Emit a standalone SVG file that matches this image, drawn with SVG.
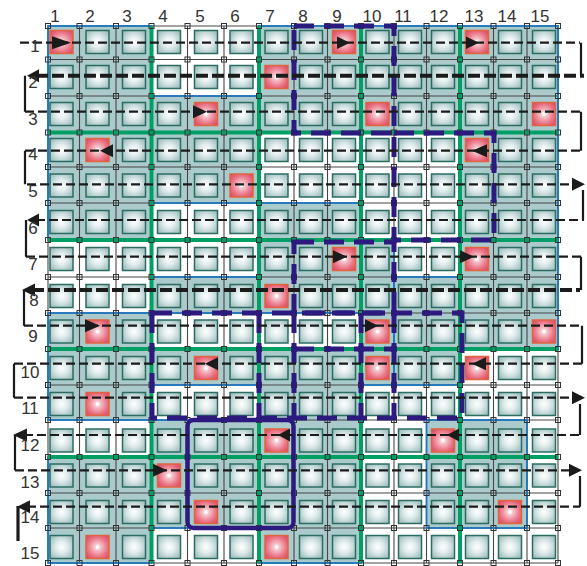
<svg xmlns="http://www.w3.org/2000/svg" width="587" height="566" viewBox="0 0 587 566">
<style>
.grid{stroke:#474747;stroke-width:1.1;fill:none}
.green{stroke:#00a064;stroke-width:4;fill:none}
.pd{stroke:#2d1a7e;stroke-width:5;fill:none;stroke-dasharray:20 10}
.ps{stroke:#2d1a7e;stroke-width:4.5;fill:none}
.sl{stroke:#1b1b1b;stroke-width:2.2;fill:none;stroke-dasharray:9 4}
.sk{stroke:#1b1b1b;stroke-width:4;fill:none;stroke-dasharray:12 4}
.cn{stroke:#1b1b1b;stroke-width:2.2;fill:none}
.ah{fill:#1b1b1b}
.lb{font-family:"Liberation Sans",Arial,sans-serif;font-size:17px;fill:#333;text-anchor:middle}
.mk{fill:none;stroke:#333;stroke-width:1}
</style>
<defs>
<radialGradient id="gs" cx="50%" cy="50%" r="70%">
<stop offset="0" stop-color="#ffffff"/><stop offset="0.35" stop-color="#e2eded"/><stop offset="1" stop-color="#8fb3b3"/>
</radialGradient>
<radialGradient id="gr" cx="50%" cy="50%" r="70%">
<stop offset="0" stop-color="#ffffff"/><stop offset="0.2" stop-color="#f5c3ca"/><stop offset="0.6" stop-color="#ea7586"/><stop offset="1" stop-color="#d8405a"/>
</radialGradient>
<rect id="s" x="-11.5" y="-11.5" width="23" height="23" fill="url(#gs)" stroke="#2b6e61" stroke-width="1.5"/>
<g id="r"><rect x="-11.5" y="-11.5" width="23" height="23" fill="url(#gr)" stroke="#e0653f" stroke-width="1.5"/><rect x="-1.5" y="-1.5" width="3" height="3" fill="#fff"/></g>
<rect id="m" x="-2.5" y="-2.5" width="5" height="5" class="mk"/>
<g id="mr">
<use href="#m" x="48"/><use href="#m" x="79.5"/><use href="#m" x="116"/><use href="#m" x="151.5"/><use href="#m" x="187.5"/><use href="#m" x="224"/><use href="#m" x="259"/><use href="#m" x="294"/><use href="#m" x="327.5"/><use href="#m" x="361"/><use href="#m" x="394"/><use href="#m" x="426.5"/><use href="#m" x="460"/><use href="#m" x="493.5"/><use href="#m" x="527"/><use href="#m" x="558"/>
</g>
<g id="teal">
<rect x="48" y="26" width="103.5" height="106.5"/>
<rect x="151.5" y="96" width="107.5" height="36.5"/>
<rect x="259" y="26" width="102" height="106.5"/>
<rect x="361" y="26" width="99" height="106.5"/>
<rect x="460" y="26" width="98" height="106.5"/>
<rect x="48" y="132.5" width="103.5" height="107.5"/>
<rect x="151.5" y="132.5" width="107.5" height="70.5"/>
<rect x="259" y="203" width="102" height="37"/>
<rect x="460" y="132.5" width="98" height="107.5"/>
<rect x="259" y="240" width="102" height="73"/>
<rect x="361" y="240" width="33" height="145"/>
<rect x="394" y="277" width="66" height="108"/>
<rect x="460" y="240" width="98" height="109"/>
<rect x="151.5" y="277" width="107.5" height="36"/>
<rect x="48" y="313" width="103.5" height="107"/>
<rect x="151.5" y="349" width="107.5" height="36"/>
<rect x="259" y="349" width="102" height="214"/>
<rect x="151.5" y="420" width="107.5" height="108"/>
<rect x="426.5" y="420" width="100.5" height="108"/>
<rect x="48" y="457" width="103.5" height="106"/>
</g>
</defs>
<rect width="587" height="566" fill="#fff"/>
<use href="#teal" fill="#aacacc"/>
<path class="grid" d="M48 26V563M79.5 26V563M116 26V563M151.5 26V563M187.5 26V563M224 26V563M259 26V563M294 26V563M327.5 26V563M361 26V563M394 26V563M426.5 26V563M460 26V563M493.5 26V563M527 26V563M558 26V563M48 26H558M48 59.5H558M48 96H558M48 132.5H558M48 167H558M48 203H558M48 240H558M48 277H558M48 313H558M48 349H558M48 385H558M48 420H558M48 457H558M48 493H558M48 528H558M48 563H558"/>
<use href="#teal" fill="none" stroke="#1e78c2" stroke-width="1.8"/>
<path class="green" d="M151.5 26V563M259 26V563M361 26V563M460 26V563M48 132.5H558M48 240H558M48 349H558M48 457H558"/>
<g id="markers">
<use href="#mr" y="26"/><use href="#mr" y="59.5"/><use href="#mr" y="96"/><use href="#mr" y="132.5"/><use href="#mr" y="167"/><use href="#mr" y="203"/><use href="#mr" y="240"/><use href="#mr" y="277"/><use href="#mr" y="313"/><use href="#mr" y="349"/><use href="#mr" y="385"/><use href="#mr" y="420"/><use href="#mr" y="457"/><use href="#mr" y="493"/><use href="#mr" y="528"/><use href="#mr" y="563"/>
</g>
<g id="row-1" transform="translate(0,42)"><use href="#r" x="61.5"/><use href="#s" x="97.5"/><use href="#s" x="134"/><use href="#s" x="169"/><use href="#s" x="206"/><use href="#s" x="241.5"/><use href="#s" x="276.5"/><use href="#s" x="311"/><use href="#r" x="344"/><use href="#s" x="377.5"/><use href="#s" x="410"/><use href="#s" x="443"/><use href="#r" x="477"/><use href="#s" x="510"/><use href="#s" x="544"/></g>
<g id="row-2" transform="translate(0,77)"><use href="#s" x="61.5"/><use href="#s" x="97.5"/><use href="#s" x="134"/><use href="#s" x="169"/><use href="#s" x="206"/><use href="#s" x="241.5"/><use href="#r" x="276.5"/><use href="#s" x="311"/><use href="#s" x="344"/><use href="#s" x="377.5"/><use href="#s" x="410"/><use href="#s" x="443"/><use href="#s" x="477"/><use href="#s" x="510"/><use href="#s" x="544"/></g>
<g id="row-3" transform="translate(0,114)"><use href="#s" x="61.5"/><use href="#s" x="97.5"/><use href="#s" x="134"/><use href="#s" x="169"/><use href="#r" x="206"/><use href="#s" x="241.5"/><use href="#s" x="276.5"/><use href="#s" x="311"/><use href="#s" x="344"/><use href="#r" x="377.5"/><use href="#s" x="410"/><use href="#s" x="443"/><use href="#s" x="477"/><use href="#s" x="510"/><use href="#r" x="544"/></g>
<g id="row-4" transform="translate(0,150)"><use href="#s" x="61.5"/><use href="#r" x="97.5"/><use href="#s" x="134"/><use href="#s" x="169"/><use href="#s" x="206"/><use href="#s" x="241.5"/><use href="#s" x="276.5"/><use href="#s" x="311"/><use href="#s" x="344"/><use href="#s" x="377.5"/><use href="#s" x="410"/><use href="#s" x="443"/><use href="#r" x="477"/><use href="#s" x="510"/><use href="#s" x="544"/></g>
<g id="row-5" transform="translate(0,185.5)"><use href="#s" x="61.5"/><use href="#s" x="97.5"/><use href="#s" x="134"/><use href="#s" x="169"/><use href="#s" x="206"/><use href="#r" x="241.5"/><use href="#s" x="276.5"/><use href="#s" x="311"/><use href="#s" x="344"/><use href="#s" x="377.5"/><use href="#s" x="410"/><use href="#s" x="443"/><use href="#s" x="477"/><use href="#s" x="510"/><use href="#s" x="544"/></g>
<g id="row-6" transform="translate(0,222)"><use href="#s" x="61.5"/><use href="#s" x="97.5"/><use href="#s" x="134"/><use href="#s" x="169"/><use href="#s" x="206"/><use href="#s" x="241.5"/><use href="#s" x="276.5"/><use href="#s" x="311"/><use href="#s" x="344"/><use href="#s" x="377.5"/><use href="#s" x="410"/><use href="#s" x="443"/><use href="#s" x="477"/><use href="#s" x="510"/><use href="#s" x="544"/></g>
<g id="row-7" transform="translate(0,259)"><use href="#s" x="61.5"/><use href="#s" x="97.5"/><use href="#s" x="134"/><use href="#s" x="169"/><use href="#s" x="206"/><use href="#s" x="241.5"/><use href="#s" x="276.5"/><use href="#s" x="311"/><use href="#r" x="344"/><use href="#s" x="377.5"/><use href="#s" x="410"/><use href="#s" x="443"/><use href="#r" x="477"/><use href="#s" x="510"/><use href="#s" x="544"/></g>
<g id="row-8" transform="translate(0,296)"><use href="#s" x="61.5"/><use href="#s" x="97.5"/><use href="#s" x="134"/><use href="#s" x="169"/><use href="#s" x="206"/><use href="#s" x="241.5"/><use href="#r" x="276.5"/><use href="#s" x="311"/><use href="#s" x="344"/><use href="#s" x="377.5"/><use href="#s" x="410"/><use href="#s" x="443"/><use href="#s" x="477"/><use href="#s" x="510"/><use href="#s" x="544"/></g>
<g id="row-9" transform="translate(0,331.5)"><use href="#s" x="61.5"/><use href="#r" x="97.5"/><use href="#s" x="134"/><use href="#s" x="169"/><use href="#s" x="206"/><use href="#s" x="241.5"/><use href="#s" x="276.5"/><use href="#s" x="311"/><use href="#s" x="344"/><use href="#r" x="377.5"/><use href="#s" x="410"/><use href="#s" x="443"/><use href="#s" x="477"/><use href="#s" x="510"/><use href="#r" x="544"/></g>
<g id="row-10" transform="translate(0,368)"><use href="#s" x="61.5"/><use href="#s" x="97.5"/><use href="#s" x="134"/><use href="#s" x="169"/><use href="#r" x="206"/><use href="#s" x="241.5"/><use href="#s" x="276.5"/><use href="#s" x="311"/><use href="#s" x="344"/><use href="#r" x="377.5"/><use href="#s" x="410"/><use href="#s" x="443"/><use href="#r" x="477"/><use href="#s" x="510"/><use href="#s" x="544"/></g>
<g id="row-11" transform="translate(0,404)"><use href="#s" x="61.5"/><use href="#r" x="97.5"/><use href="#s" x="134"/><use href="#s" x="169"/><use href="#s" x="206"/><use href="#s" x="241.5"/><use href="#s" x="276.5"/><use href="#s" x="311"/><use href="#s" x="344"/><use href="#s" x="377.5"/><use href="#s" x="410"/><use href="#s" x="443"/><use href="#s" x="477"/><use href="#s" x="510"/><use href="#s" x="544"/></g>
<g id="row-12" transform="translate(0,440.5)"><use href="#s" x="61.5"/><use href="#s" x="97.5"/><use href="#s" x="134"/><use href="#s" x="169"/><use href="#s" x="206"/><use href="#s" x="241.5"/><use href="#r" x="276.5"/><use href="#s" x="311"/><use href="#s" x="344"/><use href="#s" x="377.5"/><use href="#s" x="410"/><use href="#r" x="443"/><use href="#s" x="477"/><use href="#s" x="510"/><use href="#s" x="544"/></g>
<g id="row-13" transform="translate(0,475.5)"><use href="#s" x="61.5"/><use href="#s" x="97.5"/><use href="#s" x="134"/><use href="#r" x="169"/><use href="#s" x="206"/><use href="#s" x="241.5"/><use href="#s" x="276.5"/><use href="#s" x="311"/><use href="#s" x="344"/><use href="#s" x="377.5"/><use href="#s" x="410"/><use href="#s" x="443"/><use href="#s" x="477"/><use href="#s" x="510"/><use href="#s" x="544"/></g>
<g id="row-14" transform="translate(0,512)"><use href="#s" x="61.5"/><use href="#s" x="97.5"/><use href="#s" x="134"/><use href="#s" x="169"/><use href="#r" x="206"/><use href="#s" x="241.5"/><use href="#s" x="276.5"/><use href="#s" x="311"/><use href="#s" x="344"/><use href="#s" x="377.5"/><use href="#s" x="410"/><use href="#s" x="443"/><use href="#s" x="477"/><use href="#r" x="510"/><use href="#s" x="544"/></g>
<g id="row-15" transform="translate(0,547)"><use href="#s" x="61.5"/><use href="#r" x="97.5"/><use href="#s" x="134"/><use href="#s" x="169"/><use href="#s" x="206"/><use href="#s" x="241.5"/><use href="#r" x="276.5"/><use href="#s" x="311"/><use href="#s" x="344"/><use href="#s" x="377.5"/><use href="#s" x="410"/><use href="#s" x="443"/><use href="#s" x="477"/><use href="#s" x="510"/><use href="#s" x="544"/></g>
<g id="purple">
<rect class="pd" x="294" y="26" width="100" height="107"/>
<rect class="pd" x="394" y="133" width="100" height="107"/>
<rect class="pd" x="294" y="242" width="100" height="71"/>
<rect class="pd" x="152" y="313" width="310" height="105"/>
<path class="pd" d="M259 313V418M294 313V418M361 313V418M394 313V418M294 349H394"/>
<rect class="ps" x="187.5" y="420" width="106" height="108" rx="6"/>
</g>
<g id="connectors">
<path class="sl" d="M20 42.7H580"/>
<path class="sk" d="M36 75.7H584"/>
<path class="sl" d="M25 111.7H581"/>
<path class="sl" d="M25 150.7H582"/>
<path class="sl" d="M27 184.3H574"/>
<path class="sl" d="M36 220H584"/>
<path class="sl" d="M26 256.7H581"/>
<path class="sk" d="M32 290H580"/>
<path class="sl" d="M24 325.7H582"/>
<path class="sl" d="M14 363.7H585"/>
<path class="sl" d="M14 397.7H574"/>
<path class="sl" d="M24 435H580"/>
<path class="sl" d="M15 470.3H571"/>
<path class="sl" d="M27 506.7H580"/>
<path class="cn" d="M581 42.7V75.7M25 75.7V111.7M581 111.7V150.7M25 150.7V184.3M583 190V220M26 220V256.7M581 256.7V290M24 290V325.7M582 325.7V363.7M14 363.7V397.7M580 404V435M15 435V470.3M580 476V506.7"/>
<path class="cn" style="stroke-width:3.2" d="M18 541V506"/>
<polygon class="ah" points="52,36.2 71,42.7 52,49.2"/>
<polygon class="ah" points="337,36.5 350,42.7 337,49"/>
<polygon class="ah" points="466,36.5 479,42.7 466,49"/>
<polygon class="ah" points="27,75.7 39,69.2 39,82.2"/>
<polygon class="ah" points="193,105.2 207,111.7 193,118.2"/>
<polygon class="ah" points="472,150.7 487,144.2 487,157.2"/>
<polygon class="ah" points="100,150.7 113,144.2 113,157.2"/>
<polygon class="ah" points="572,177.8 585,184.3 572,190.8"/>
<polygon class="ah" points="27,220 39,213.5 39,226.5"/>
<polygon class="ah" points="333,250.2 347,256.7 333,263.2"/>
<polygon class="ah" points="460,250.2 474,256.7 460,263.2"/>
<polygon class="ah" points="22,290 35,283.5 35,296.5"/>
<polygon class="ah" points="85,319.2 100,325.7 85,332.2"/>
<polygon class="ah" points="365,319.2 378,325.7 365,332.2"/>
<polygon class="ah" points="472,363.7 486,357.2 486,370.2"/>
<polygon class="ah" points="205,363.7 218,357.2 218,370.2"/>
<polygon class="ah" points="572,391.2 585,397.7 572,404.2"/>
<polygon class="ah" points="447,435 459,428.5 459,441.5"/>
<polygon class="ah" points="278,435 290,428.5 290,441.5"/>
<polygon class="ah" points="13,435 27,428.5 27,441.5"/>
<polygon class="ah" points="153,463.8 167,470.3 153,476.8"/>
<polygon class="ah" points="569,463.8 582,470.3 569,476.8"/>
<polygon class="ah" points="17,506.7 30,500.2 30,513.2"/>
</g>
<g id="labels">
<text class="lb" x="55" y="22">1</text><text class="lb" x="90" y="22">2</text><text class="lb" x="127" y="22">3</text><text class="lb" x="163" y="22">4</text><text class="lb" x="200" y="22">5</text><text class="lb" x="235" y="22">6</text><text class="lb" x="270" y="22">7</text><text class="lb" x="303" y="22">8</text><text class="lb" x="337" y="22">9</text><text class="lb" x="372" y="22">10</text><text class="lb" x="403" y="22">11</text><text class="lb" x="439" y="22">12</text><text class="lb" x="474" y="22">13</text><text class="lb" x="507" y="22">14</text><text class="lb" x="540" y="22">15</text>
<text class="lb" x="35" y="52">1</text><text class="lb" x="33" y="88">2</text><text class="lb" x="33" y="125">3</text><text class="lb" x="33" y="160">4</text><text class="lb" x="33" y="197">5</text><text class="lb" x="33" y="234">6</text><text class="lb" x="33" y="270">7</text><text class="lb" x="34" y="306">8</text><text class="lb" x="33" y="342">9</text><text class="lb" x="30" y="378">10</text><text class="lb" x="30" y="414">11</text><text class="lb" x="30" y="451">12</text><text class="lb" x="30" y="488">13</text><text class="lb" x="30" y="523">14</text><text class="lb" x="30" y="559">15</text>
</g>
</svg>
